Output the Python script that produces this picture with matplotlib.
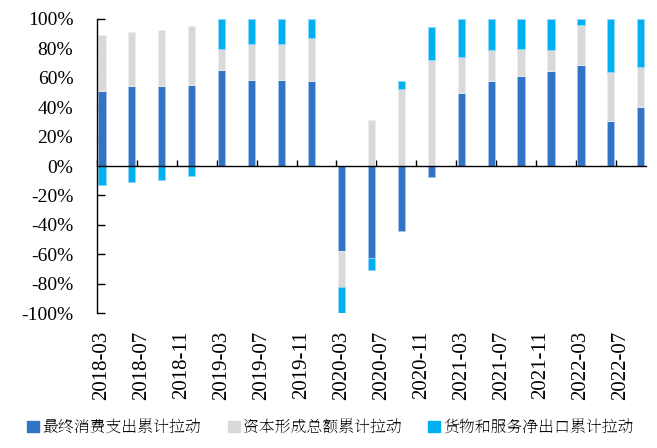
import numpy as np
import matplotlib
matplotlib.use("Agg")
import matplotlib.pyplot as plt
from matplotlib.patches import Patch
from matplotlib import font_manager

# Quarterly cumulative contributions (%)
quarters = ["2018-03", "2018-06", "2018-09", "2018-12",
            "2019-03", "2019-06", "2019-09", "2019-12",
            "2020-03", "2020-06", "2020-09", "2020-12",
            "2021-03", "2021-06", "2021-09", "2021-12",
            "2022-03", "2022-06", "2022-09"]
consumption = [51.0, 54.3, 54.3, 55.0, 65.2, 58.2, 58.4, 57.9,
               -58.0, -62.5, -44.3, -7.5, 49.5, 57.7, 61.1, 64.6,
               68.4, 30.7, 40.2]
capital = [38.2, 36.8, 38.0, 40.0, 14.1, 24.5, 24.3, 29.4,
           -24.5, 31.2, 52.7, 72.0, 24.5, 21.2, 18.7, 14.3,
           27.5, 33.0, 27.3]
net_exports = [-13.0, -10.7, -9.7, -7.0, 20.7, 17.3, 17.3, 12.7,
               -17.5, -8.1, 5.0, 22.8, 26.0, 21.1, 20.2, 21.1,
               4.1, 36.3, 32.5]
tick_labels = ["2018-03", "2018-07", "2018-11", "2019-03", "2019-07",
               "2019-11", "2020-03", "2020-07", "2020-11", "2021-03",
               "2021-07", "2021-11", "2022-03", "2022-07"]
series_names = ["最终消费支出累计拉动", "资本形成总额累计拉动", "货物和服务净出口累计拉动"]
colors = ["#3174C6", "#D9D9D9", "#00B0F0"]
edges = ["#A8C5EA", "#EEEEEE", "#8ED8F6"]

serif_path = font_manager.findfont(font_manager.FontProperties(family="Liberation Serif"))
ytick_fp = font_manager.FontProperties(fname=serif_path, size=14)
xtick_fp = font_manager.FontProperties(fname=serif_path, size=15)
cjk = ["Noto Serif SC", "Noto Serif CJK SC", "Noto Sans CJK SC", "DejaVu Sans"]

fig = plt.figure(figsize=(6.57, 4.48), dpi=100)
ax = fig.add_axes([0.1476, 0.3013, 0.8354, 0.6563])

# monthly date axis: one unit per month starting at 2018-03
def month_index(label):
    y, m = label.split("-")
    return (int(y) - 2018) * 12 + int(m) - 3

x = np.array([month_index(q) for q in quarters]) + 0.5
pos_base = np.zeros(len(quarters))
neg_base = np.zeros(len(quarters))
for vals, col, ec in zip([consumption, capital, net_exports], colors, edges):
    v = np.array(vals)
    bottom = np.where(v >= 0, pos_base, neg_base)
    ax.bar(x, v, bottom=bottom, width=0.72, color=col, edgecolor=ec,
           linewidth=0.6, zorder=2)
    pos_base = pos_base + np.where(v >= 0, v, 0)
    neg_base = neg_base + np.where(v < 0, v, 0)

ax.set_xlim(0, 55)
ax.set_ylim(-100, 100)

for s in ["top", "right"]:
    ax.spines[s].set_visible(False)
ax.spines["left"].set_color("black")
ax.spines["left"].set_linewidth(1.0)
ax.spines["bottom"].set_position(("data", 0))
ax.spines["bottom"].set_color("black")
ax.spines["bottom"].set_linewidth(1.0)
ax.spines["bottom"].set_zorder(3)

yt = np.arange(-100, 101, 20)
ax.set_yticks(yt)
ax.set_yticklabels([f"{v}%" for v in yt], fontproperties=ytick_fp)
ax.tick_params(axis="y", direction="in", length=5.5, width=1.0, pad=17)

tick_pos = np.array([month_index(t) for t in tick_labels])
ax.set_xticks(tick_pos)
ax.set_xticklabels([])
ax.tick_params(axis="x", direction="in", length=4.5, width=1.0)

sec = ax.secondary_xaxis(0)
sec.set_xticks(tick_pos + 0.5)
sec.set_xticklabels(tick_labels, rotation=90, fontproperties=xtick_fp)
sec.tick_params(axis="x", length=0, pad=13)
sec.spines["bottom"].set_visible(False)

handles = [Patch(facecolor=c, edgecolor=c) for c in colors]
leg = fig.legend(handles, series_names, loc="center", bbox_to_anchor=(0.503, 0.045),
                 ncol=3, frameon=False, prop={"family": cjk, "size": 11.4},
                 handlelength=0.75, handleheight=0.75, handletextpad=0.2,
                 columnspacing=1.7)

fig.savefig("out.png", dpi=100)
